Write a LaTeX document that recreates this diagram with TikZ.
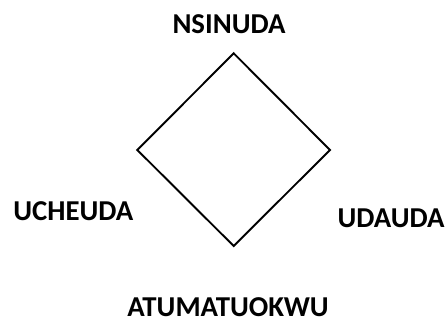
\documentclass[tikz,border=0pt]{standalone}
\usepackage{fontspec}
\setmainfont{Carlito}
\begin{document}
\begin{tikzpicture}[x=1pt,y=-1pt,
  lbl/.style={font=\fontsize{28.8}{30}\selectfont\bfseries, inner sep=0pt, anchor=base}]
\useasboundingbox (0,0) rectangle (447,320);
\coordinate (t) at (233.7,53.3);
\coordinate (r) at (330,150);
\coordinate (b) at (233.7,246);
\coordinate (l) at (137.3,150);
\draw[line width=1.9pt, line join=miter] (t) -- (r) -- (b) -- (l) -- cycle;
\node[lbl] (n) at (229,34) {NSINUDA};
\node[lbl] (w) at (73.3,221) {UCHEUDA};
\node[lbl] (e) at (391,228) {UDAUDA};
\node[lbl] (s) at (228,316.8) {ATUMATUOKWU};
\end{tikzpicture}
\end{document}
